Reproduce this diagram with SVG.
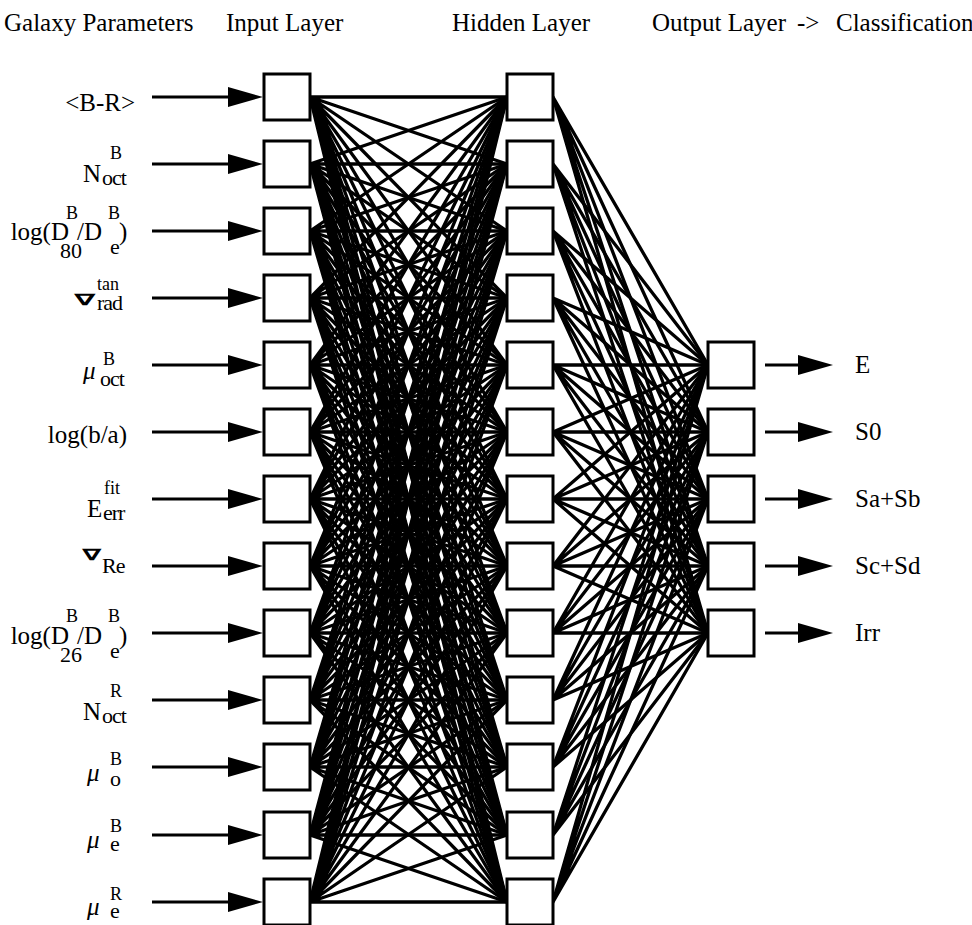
<svg xmlns="http://www.w3.org/2000/svg" width="972" height="925" viewBox="0 0 972 925">
  <style>
    .t { font-family: 'Liberation Serif', 'DejaVu Serif', serif; fill: #000; }
    .hdr { font-size: 25px; }
    .lbl { font-size: 25px; }
    .sup { font-size: 18px; }
    .sub { font-size: 22px; letter-spacing: -1px; }
    .mu { font-size: 25px; font-style: italic; }
    .nab { font-family: 'DejaVu Sans', sans-serif; font-size: 20px; font-weight: bold; fill: #000; }
    .box { fill: #fff; stroke: #000; stroke-width: 3; }
    .net { fill: none; stroke: #000; stroke-width: 3.3; stroke-linejoin: round; }
    .arr { stroke: #000; stroke-width: 3; fill: none; }
  </style>
  <defs>
    <marker id="head" markerUnits="userSpaceOnUse" markerWidth="38" markerHeight="22" refX="22" refY="10" orient="auto">
      <path d="M0,0 L35,10 L0,20 Z" fill="#000"/>
    </marker>
  </defs>
  <rect width="972" height="925" fill="#fff"/>

  <!-- column headings -->
  <g id="headings">
    <text class="t hdr" x="4" y="31">Galaxy Parameters</text>
    <text class="t hdr" x="226" y="31">Input Layer</text>
    <text class="t hdr" x="452" y="31">Hidden Layer</text>
    <text class="t hdr" x="652" y="31">Output Layer</text>
    <text class="t hdr" x="797" y="31">-&gt;</text>
    <text class="t hdr" x="836" y="31">Classification</text>
  </g>

  <!-- weighted links: input -> hidden, hidden -> output -->
  <g id="connectors">
    <path class="net" d="M507 97L310 97L507 164M507 231L310 97L507 298M507 365L310 97L507 432M507 499L310 97L507 566M507 633L310 97L507 700M507 767L310 97L507 835M310 97L507 902"/>
    <path class="net" d="M507 97L310 164L507 164M507 231L310 164L507 298M507 365L310 164L507 432M507 499L310 164L507 566M507 633L310 164L507 700M507 767L310 164L507 835M310 164L507 902"/>
    <path class="net" d="M507 97L310 231L507 164M507 231L310 231L507 298M507 365L310 231L507 432M507 499L310 231L507 566M507 633L310 231L507 700M507 767L310 231L507 835M310 231L507 902"/>
    <path class="net" d="M507 97L310 298L507 164M507 231L310 298L507 298M507 365L310 298L507 432M507 499L310 298L507 566M507 633L310 298L507 700M507 767L310 298L507 835M310 298L507 902"/>
    <path class="net" d="M507 97L310 365L507 164M507 231L310 365L507 298M507 365L310 365L507 432M507 499L310 365L507 566M507 633L310 365L507 700M507 767L310 365L507 835M310 365L507 902"/>
    <path class="net" d="M507 97L310 432L507 164M507 231L310 432L507 298M507 365L310 432L507 432M507 499L310 432L507 566M507 633L310 432L507 700M507 767L310 432L507 835M310 432L507 902"/>
    <path class="net" d="M507 97L310 499L507 164M507 231L310 499L507 298M507 365L310 499L507 432M507 499L310 499L507 566M507 633L310 499L507 700M507 767L310 499L507 835M310 499L507 902"/>
    <path class="net" d="M507 97L310 566L507 164M507 231L310 566L507 298M507 365L310 566L507 432M507 499L310 566L507 566M507 633L310 566L507 700M507 767L310 566L507 835M310 566L507 902"/>
    <path class="net" d="M507 97L310 633L507 164M507 231L310 633L507 298M507 365L310 633L507 432M507 499L310 633L507 566M507 633L310 633L507 700M507 767L310 633L507 835M310 633L507 902"/>
    <path class="net" d="M507 97L310 700L507 164M507 231L310 700L507 298M507 365L310 700L507 432M507 499L310 700L507 566M507 633L310 700L507 700M507 767L310 700L507 835M310 700L507 902"/>
    <path class="net" d="M507 97L310 767L507 164M507 231L310 767L507 298M507 365L310 767L507 432M507 499L310 767L507 566M507 633L310 767L507 700M507 767L310 767L507 835M310 767L507 902"/>
    <path class="net" d="M507 97L310 835L507 164M507 231L310 835L507 298M507 365L310 835L507 432M507 499L310 835L507 566M507 633L310 835L507 700M507 767L310 835L507 835M310 835L507 902"/>
    <path class="net" d="M507 97L310 902L507 164M507 231L310 902L507 298M507 365L310 902L507 432M507 499L310 902L507 566M507 633L310 902L507 700M507 767L310 902L507 835M310 902L507 902"/>

    <path class="net" d="M708 365L553 97L708 432M708 499L553 97L708 566M553 97L708 633"/>
    <path class="net" d="M708 365L553 164L708 432M708 499L553 164L708 566M553 164L708 633"/>
    <path class="net" d="M708 365L553 231L708 432M708 499L553 231L708 566M553 231L708 633"/>
    <path class="net" d="M708 365L553 298L708 432M708 499L553 298L708 566M553 298L708 633"/>
    <path class="net" d="M708 365L553 365L708 432M708 499L553 365L708 566M553 365L708 633"/>
    <path class="net" d="M708 365L553 432L708 432M708 499L553 432L708 566M553 432L708 633"/>
    <path class="net" d="M708 365L553 499L708 432M708 499L553 499L708 566M553 499L708 633"/>
    <path class="net" d="M708 365L553 566L708 432M708 499L553 566L708 566M553 566L708 633"/>
    <path class="net" d="M708 365L553 633L708 432M708 499L553 633L708 566M553 633L708 633"/>
    <path class="net" d="M708 365L553 700L708 432M708 499L553 700L708 566M553 700L708 633"/>
    <path class="net" d="M708 365L553 767L708 432M708 499L553 767L708 566M553 767L708 633"/>
    <path class="net" d="M708 365L553 835L708 432M708 499L553 835L708 566M553 835L708 633"/>
    <path class="net" d="M708 365L553 902L708 432M708 499L553 902L708 566M553 902L708 633"/>

    <!-- parameter feeds into the input layer -->
    <line class="arr" x1="152" y1="97" x2="250" y2="97" marker-end="url(#head)"/>
    <line class="arr" x1="152" y1="164" x2="250" y2="164" marker-end="url(#head)"/>
    <line class="arr" x1="152" y1="231" x2="250" y2="231" marker-end="url(#head)"/>
    <line class="arr" x1="152" y1="298" x2="250" y2="298" marker-end="url(#head)"/>
    <line class="arr" x1="152" y1="365" x2="250" y2="365" marker-end="url(#head)"/>
    <line class="arr" x1="152" y1="432" x2="250" y2="432" marker-end="url(#head)"/>
    <line class="arr" x1="152" y1="499" x2="250" y2="499" marker-end="url(#head)"/>
    <line class="arr" x1="152" y1="566" x2="250" y2="566" marker-end="url(#head)"/>
    <line class="arr" x1="152" y1="633" x2="250" y2="633" marker-end="url(#head)"/>
    <line class="arr" x1="152" y1="700" x2="250" y2="700" marker-end="url(#head)"/>
    <line class="arr" x1="152" y1="767" x2="250" y2="767" marker-end="url(#head)"/>
    <line class="arr" x1="152" y1="835" x2="250" y2="835" marker-end="url(#head)"/>
    <line class="arr" x1="152" y1="902" x2="250" y2="902" marker-end="url(#head)"/>

    <!-- class outputs -->
    <line class="arr" x1="765" y1="365" x2="820" y2="365" marker-end="url(#head)"/>
    <line class="arr" x1="765" y1="432" x2="820" y2="432" marker-end="url(#head)"/>
    <line class="arr" x1="765" y1="499" x2="820" y2="499" marker-end="url(#head)"/>
    <line class="arr" x1="765" y1="566" x2="820" y2="566" marker-end="url(#head)"/>
    <line class="arr" x1="765" y1="633" x2="820" y2="633" marker-end="url(#head)"/>
  </g>

  <!-- input layer nodes -->
  <g id="in1"><rect class="box" x="264" y="74" width="46" height="46"/><text class="t lbl" x="135" y="111" text-anchor="end">&lt;B-R&gt;</text></g>
  <g id="in2"><rect class="box" x="264" y="141" width="46" height="46"/>
    <text class="t lbl" x="83" y="182">N</text><text class="t sup" x="110" y="159">B</text><text class="t sub" x="102" y="185">oct</text></g>
  <g id="in3"><rect class="box" x="264" y="208" width="46" height="46"/>
    <text class="t lbl" x="69" y="240" text-anchor="end">log(D</text><text class="t sup" x="66" y="219">B</text><text class="t sub" x="60" y="258" style="letter-spacing:0">80</text>
    <text class="t lbl" x="77" y="240">/D</text><text class="t sup" x="108" y="219">B</text><text class="t sub" x="110" y="254">e</text><text class="t lbl" x="119" y="240">)</text></g>
  <g id="in4"><rect class="box" x="264" y="275" width="46" height="46"/>
    <text class="nab" transform="translate(74,305) scale(1.55,0.8)">∇</text><text class="t sup" x="97" y="290">tan</text><text class="t sub" x="97" y="310">rad</text></g>
  <g id="in5"><rect class="box" x="264" y="342" width="46" height="46"/>
    <text class="t mu" x="83" y="379">μ</text><text class="t sup" x="103" y="365">B</text><text class="t sub" x="100" y="386">oct</text></g>
  <g id="in6"><rect class="box" x="264" y="409" width="46" height="46"/><text class="t lbl" x="127" y="443" text-anchor="end">log(b/a)</text></g>
  <g id="in7"><rect class="box" x="264" y="476" width="46" height="46"/>
    <text class="t lbl" x="87" y="517">E</text><text class="t sup" x="104" y="494">fit</text><text class="t sub" x="103" y="520">err</text></g>
  <g id="in8"><rect class="box" x="264" y="543" width="46" height="46"/>
    <text class="nab" transform="translate(82,560) scale(1.4,0.8)">∇</text><text class="t sub" x="102" y="573">Re</text></g>
  <g id="in9"><rect class="box" x="264" y="610" width="46" height="46"/>
    <text class="t lbl" x="69" y="644" text-anchor="end">log(D</text><text class="t sup" x="66" y="622">B</text><text class="t sub" x="60" y="662" style="letter-spacing:0">26</text>
    <text class="t lbl" x="77" y="644">/D</text><text class="t sup" x="108" y="622">B</text><text class="t sub" x="110" y="658">e</text><text class="t lbl" x="119" y="644">)</text></g>
  <g id="in10"><rect class="box" x="264" y="677" width="46" height="46"/>
    <text class="t lbl" x="83" y="720">N</text><text class="t sup" x="110" y="697">R</text><text class="t sub" x="102" y="723">oct</text></g>
  <g id="in11"><rect class="box" x="264" y="744" width="46" height="46"/>
    <text class="t mu" x="87" y="781">μ</text><text class="t sup" x="110" y="765">B</text><text class="t sub" x="110" y="786">o</text></g>
  <g id="in12"><rect class="box" x="264" y="812" width="46" height="46"/>
    <text class="t mu" x="87" y="848">μ</text><text class="t sup" x="110" y="832">B</text><text class="t sub" x="110" y="851">e</text></g>
  <g id="in13"><rect class="box" x="264" y="879" width="46" height="46"/>
    <text class="t mu" x="87" y="915">μ</text><text class="t sup" x="110" y="900">R</text><text class="t sub" x="110" y="918">e</text></g>

  <!-- hidden layer nodes -->
  <g id="h1"><rect class="box" x="507" y="74" width="46" height="46"/></g>
  <g id="h2"><rect class="box" x="507" y="141" width="46" height="46"/></g>
  <g id="h3"><rect class="box" x="507" y="208" width="46" height="46"/></g>
  <g id="h4"><rect class="box" x="507" y="275" width="46" height="46"/></g>
  <g id="h5"><rect class="box" x="507" y="342" width="46" height="46"/></g>
  <g id="h6"><rect class="box" x="507" y="409" width="46" height="46"/></g>
  <g id="h7"><rect class="box" x="507" y="476" width="46" height="46"/></g>
  <g id="h8"><rect class="box" x="507" y="543" width="46" height="46"/></g>
  <g id="h9"><rect class="box" x="507" y="610" width="46" height="46"/></g>
  <g id="h10"><rect class="box" x="507" y="677" width="46" height="46"/></g>
  <g id="h11"><rect class="box" x="507" y="744" width="46" height="46"/></g>
  <g id="h12"><rect class="box" x="507" y="812" width="46" height="46"/></g>
  <g id="h13"><rect class="box" x="507" y="879" width="46" height="46"/></g>

  <!-- output layer nodes -->
  <g id="outE"><rect class="box" x="708" y="342" width="46" height="46"/><text class="t lbl" x="855" y="373">E</text></g>
  <g id="outS0"><rect class="box" x="708" y="409" width="46" height="46"/><text class="t lbl" x="855" y="440">S0</text></g>
  <g id="outSab"><rect class="box" x="708" y="476" width="46" height="46"/><text class="t lbl" x="855" y="507">Sa+Sb</text></g>
  <g id="outScd"><rect class="box" x="708" y="543" width="46" height="46"/><text class="t lbl" x="855" y="574">Sc+Sd</text></g>
  <g id="outIrr"><rect class="box" x="708" y="610" width="46" height="46"/><text class="t lbl" x="855" y="641">Irr</text></g>
</svg>
